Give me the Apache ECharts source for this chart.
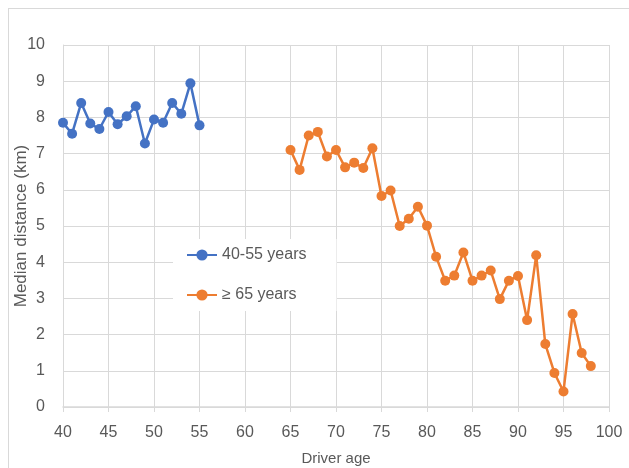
<!DOCTYPE html>
<html>
<head>
<meta charset="utf-8">
<script src="https://cdn.jsdelivr.net/npm/echarts@6/dist/echarts.min.js"></script>
<style>
html,body{margin:0;padding:0;background:#fff;}
#frame{position:absolute;left:8px;top:8px;width:640px;height:480px;border:1px solid #d9d9d9;box-sizing:border-box;}
#chart{position:absolute;left:0;top:0;width:629px;height:468px;}
</style>
</head>
<body>
<div id="frame"></div>
<div id="chart"></div>
<script>
const agesA = [40,41,42,43,44,45,46,47,48,49,50,51,52,53,54,55];
const distA = [7.85,7.55,8.40,7.83,7.68,8.15,7.81,8.03,8.31,7.28,7.94,7.85,8.40,8.10,8.94,7.78];
const agesB = [65,66,67,68,69,70,71,72,73,74,75,76,77,78,79,80,81,82,83,84,85,86,87,88,89,90,91,92,93,94,95,96,97,98];
const distB = [7.10,6.55,7.50,7.60,6.92,7.10,6.62,6.75,6.60,7.15,5.83,5.98,5.00,5.20,5.53,5.01,4.15,3.49,3.63,4.27,3.49,3.63,3.77,2.98,3.49,3.62,2.40,4.19,1.74,0.94,0.43,2.57,1.49,1.13];
const seriesNames = ['40-55 years', '\u2265 65 years'];
const xTicks = {min: 40, max: 100, interval: 5};
const yTicks = {min: 0, max: 10, interval: 1};

const font = 'Liberation Sans, Arial, sans-serif';
const textColor = '#595959';
const gridColor = '#d9d9d9';

const chart = echarts.init(document.getElementById('chart'));
chart.setOption({
  animation: false,
  grid: {left: 63, top: 45, right: 20, bottom: 61, containLabel: false, outerBoundsMode: 'none'},
  legend: {
    orient: 'vertical',
    left: 173, top: 239,
    padding: [8, 30, 8, 13],
    itemGap: 24,
    itemWidth: 30, itemHeight: 14,
    backgroundColor: '#ffffff',
    textStyle: {fontFamily: font, fontSize: 16, color: textColor},
    data: seriesNames
  },
  xAxis: {
    type: 'value',
    min: xTicks.min, max: xTicks.max, interval: xTicks.interval,
    name: 'Driver age', nameLocation: 'middle', nameGap: 44, nameMoveOverlap: false,
    nameTextStyle: {fontFamily: font, fontSize: 15, color: textColor},
    axisLine: {show: true, lineStyle: {color: gridColor, width: 1.5}},
    axisTick: {show: true, length: 5, lineStyle: {color: gridColor}},
    axisLabel: {fontFamily: font, fontSize: 16, color: textColor, margin: 18},
    splitLine: {show: true, lineStyle: {color: gridColor, width: 1}}
  },
  yAxis: {
    type: 'value',
    min: yTicks.min, max: yTicks.max, interval: yTicks.interval,
    name: 'Median distance (km)', nameLocation: 'middle', nameGap: 33, nameRotate: 90, nameMoveOverlap: false,
    nameTextStyle: {fontFamily: font, fontSize: 17, color: textColor},
    axisLine: {show: true, lineStyle: {color: gridColor, width: 1}},
    axisTick: {show: false},
    axisLabel: {fontFamily: font, fontSize: 16, color: textColor, margin: 18},
    splitLine: {show: true, lineStyle: {color: gridColor, width: 1}}
  },
  series: [
    {
      name: seriesNames[0], type: 'line',
      data: agesA.map((a, i) => [a, distA[i]]),
      symbol: 'circle', symbolSize: 10,
      lineStyle: {color: '#4472C4', width: 2.5},
      itemStyle: {color: '#4472C4'}
    },
    {
      name: seriesNames[1], type: 'line',
      data: agesB.map((a, i) => [a, distB[i]]),
      symbol: 'circle', symbolSize: 10,
      lineStyle: {color: '#ED7D31', width: 2.5},
      itemStyle: {color: '#ED7D31'}
    }
  ]
});
</script>
</body>
</html>
